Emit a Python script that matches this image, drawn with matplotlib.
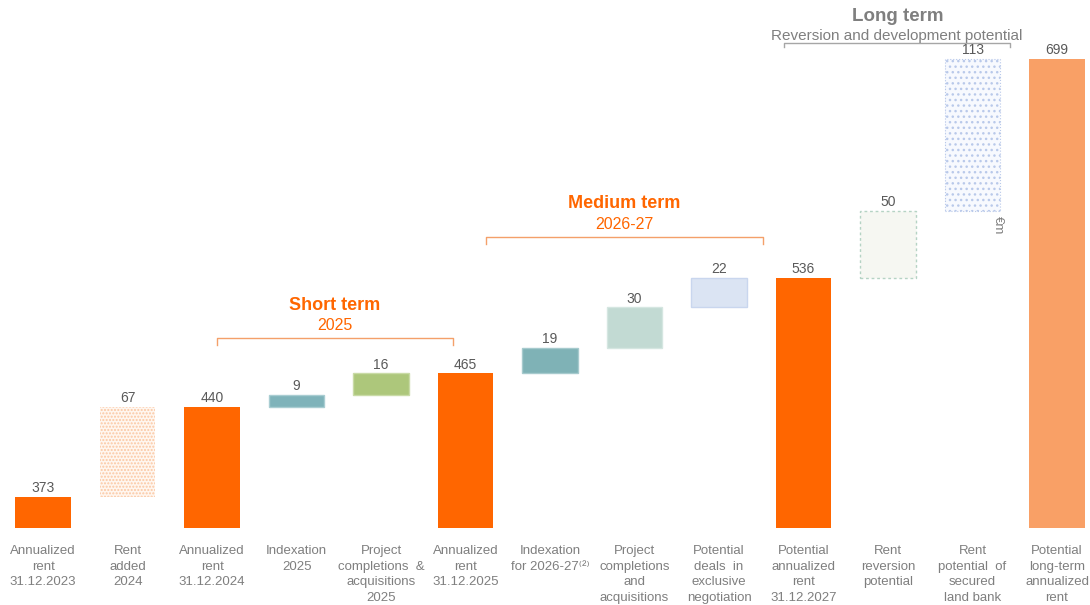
import matplotlib.pyplot as plt

plt.rcParams['font.family'] = ['Liberation Sans', 'DejaVu Sans']

# Waterfall data (EUR m)
categories = [
    "Annualized\nrent\n31.12.2023",
    "Rent\nadded\n2024",
    "Annualized\nrent\n31.12.2024",
    "Indexation\n2025",
    "Project\ncompletions  &\nacquisitions\n2025",
    "Annualized\nrent\n31.12.2025",
    "Indexation\nfor 2026-27\u207d\u00b2\u207e",
    "Project\ncompletions\nand\nacquisitions",
    "Potential\ndeals  in\nexclusive\nnegotiation",
    "Potential\nannualized\nrent\n31.12.2027",
    "Rent\nreversion\npotential",
    "Rent\npotential  of\nsecured\nland bank",
    "Potential\nlong-term\nannualized\nrent",
]
values = [373, 67, 440, 9, 16, 465, 19, 30, 22, 536, 50, 113, 699]
is_total = [True, False, True, False, False, True, False, False, False, True, False, False, True]

ORANGE = '#ff6600'
GREY_TXT = '#7f7f7f'
VAL_TXT = '#595959'

fig = plt.figure(figsize=(10.9, 6.05), dpi=100)
ax = fig.add_axes([0, 0.1273, 1, 0.8727])
ax.set_xlim(-0.51, 12.39)
ax.set_ylim(350, 742.6)
ax.axis('off')

w = 0.66
running = 0
for i, (v, tot) in enumerate(zip(values, is_total)):
    if tot:
        bottom = 350
        height = v - 350
        running = v
    else:
        bottom = running
        height = v
        running += v
    top = bottom + height
    if i in (0, 2, 5, 9):
        ax.bar(i, height, w, bottom=bottom, color=ORANGE, lw=0)
    elif i == 12:
        ax.bar(i, height, w, bottom=bottom, color='#f9a066', lw=0)
    elif i == 1:
        ax.bar(i, height, w, bottom=bottom, color='#fff6ef', lw=0)
        ax.bar(i, height, w, bottom=bottom, facecolor='none',
               edgecolor='#fbc7a2', hatch='.....', lw=0)
    elif i == 11:
        ax.bar(i, height, w, bottom=bottom, color='#f7f9fe', lw=0)
        ax.bar(i, height, w, bottom=bottom, facecolor='none',
               edgecolor='#b9c9ea', hatch='...', lw=0.8, ls=':')
    elif i == 10:
        ax.bar(i, height, w, bottom=bottom, facecolor='#f6f7f2',
               edgecolor='#b5d3c4', lw=1.0, ls=(0, (2, 2)))
    else:
        colors = {3: ('#7fb3ba', '#a9cdd2'), 4: ('#adc77b', '#c9dba6'),
                  6: ('#7fb2b6', '#a6cacd'), 7: ('#c2dad3', '#d5e6e1'),
                  8: ('#dbe4f3', '#c9d6ee')}
        fc, ec = colors[i]
        ax.bar(i, height, w, bottom=bottom, facecolor=fc, edgecolor=ec, lw=1.0)
    ax.text(i, top + 1.2, str(v), ha='center', va='bottom', fontsize=10, color=VAL_TXT)
    ax.text(i, 337, categories[i], ha='center', va='top', fontsize=9.5,
            color=GREY_TXT, linespacing=1.38, clip_on=False)


def bracket(x0, x1, y, color, tick=5):
    ax.plot([x0, x0, x1, x1], [y - tick, y, y, y - tick], color=color, lw=1.0)


# Short term
bracket(2.06, 4.85, 491.3, '#f4a06a')
ax.text(3.45, 515.8, 'Short term', ha='center', va='center', fontsize=13,
        fontweight='bold', color=ORANGE)
ax.text(3.45, 500.2, '2025', ha='center', va='center', fontsize=11.5, color=ORANGE)

# Medium term
bracket(5.24, 8.52, 566.4, '#f4a06a')
ax.text(6.88, 591.6, 'Medium term', ha='center', va='center', fontsize=13,
        fontweight='bold', color=ORANGE)
ax.text(6.88, 575.3, '2026-27', ha='center', va='center', fontsize=11.5, color=ORANGE)

# Long term
bracket(8.77, 11.44, 710.5, '#a6a6a6', tick=3)
ax.text(10.12, 730.7, 'Long term', ha='center', va='center', fontsize=13.5,
        fontweight='bold', color=GREY_TXT)
ax.text(10.1, 715.6, 'Reversion and development potential', ha='center',
        va='center', fontsize=11, color=GREY_TXT)

ax.text(11.3, 575, '€m', ha='center', va='center', rotation=270, fontsize=9.5,
        color=GREY_TXT)

fig.savefig('out.png', dpi=100)
